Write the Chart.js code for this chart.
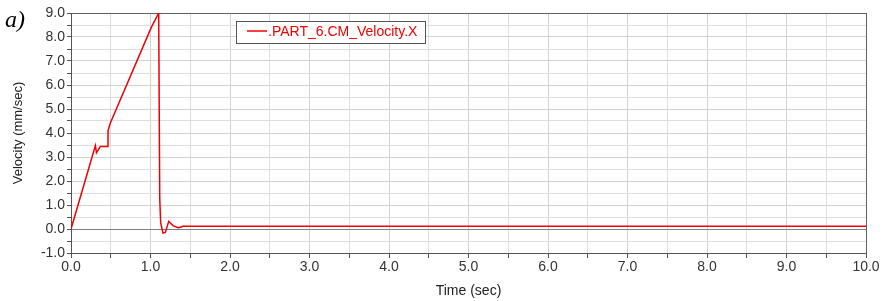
<!DOCTYPE html>
<html>
<head>
<meta charset="utf-8">
<script src="https://cdn.jsdelivr.net/npm/chart.js@4/dist/chart.umd.min.js"></script>
<style>
    body { margin: 0; background: #fff; }
    #wrap { position: relative; width: 882px; height: 301px; }
    #label { position: absolute; left: 5px; top: 6px; font: italic 24px "Liberation Serif", "Times New Roman", serif; color: #000; }
</style>
</head>
<body>
<div id="wrap">
    <canvas id="chart" width="882" height="301"></canvas>
    <div id="label">a)</div>
</div>
<script>
// data
var seriesName = ".PART_6.CM_Velocity.X";
var timeValues = [0, 0.307, 0.32, 0.37, 0.465, 0.466, 0.495, 1.01, 1.103, 1.116, 1.128, 1.157, 1.187, 1.229, 1.283, 1.346, 1.389, 1.40, 10];
var velocityValues = [0, 3.48, 3.17, 3.44, 3.44, 4.1, 4.42, 8.4, 9.0, 1.29, 0.25, -0.17, -0.14, 0.32, 0.14, 0.05, 0.08, 0.11, 0.11];
var xTicks = [0, 10, 0.5];
var yTicks = [-1, 9, 0.5];

var points = timeValues.map((t, i) => ({ x: t, y: velocityValues[i] }));
var fontFamily = '"Liberation Sans", Arial, sans-serif';

function gridColor(edge) {
    return (ctx) => {
        var v = ctx.tick.value;
        if (v == 0 && edge == 9) return '#808080';
        if (v == edge) return '#606060';
        return Number.isInteger(v) ? '#d2d2d2' : '#dedede';
    };
}

// legend box drawn inside the plot area
var boxLegend = {
    id: 'boxLegend',
    afterDraw(chart) {
        var ctx = chart.ctx;
        ctx.save();
        ctx.fillStyle = '#fff';
        ctx.fillRect(236, 21, 190, 22);
        ctx.strokeStyle = '#555';
        ctx.lineWidth = 1;
        ctx.strokeRect(236.5, 21.5, 189, 22);
        ctx.strokeStyle = '#f00000';
        ctx.lineWidth = 1.5;
        ctx.beginPath();
        ctx.moveTo(247, 31);
        ctx.lineTo(267, 31);
        ctx.stroke();
        ctx.fillStyle = '#f00000';
        ctx.font = '14px ' + fontFamily;
        ctx.textBaseline = 'middle';
        ctx.fillText(seriesName, 268, 32);
        ctx.restore();
    }
};

new Chart(document.getElementById('chart').getContext('2d'), {
    type: 'scatter',
    data: {
        datasets: [{
            label: seriesName,
            data: points,
            showLine: true,
            borderColor: '#f00000',
            borderWidth: 1.5,
            pointRadius: 0,
            tension: 0
        }]
    },
    plugins: [boxLegend],
    options: {
        responsive: false,
        animation: false,
        layout: { padding: { left: 0, right: 16, top: 13, bottom: 0 } },
        plugins: { legend: { display: false }, tooltip: { enabled: false } },
        scales: {
            x: {
                type: 'linear',
                min: xTicks[0],
                max: xTicks[1],
                afterFit: (scale) => { scale.height = 48; },
                ticks: {
                    stepSize: xTicks[2],
                    autoSkip: false,
                    maxRotation: 0,
                    padding: 1,
                    color: '#333',
                    font: { family: fontFamily, size: 14 },
                    callback: (v) => Number.isInteger(v) ? v.toFixed(1) : ''
                },
                grid: { color: gridColor(10), tickColor: '#555', tickLength: 5 },
                border: { color: '#555' },
                title: {
                    display: true,
                    text: 'Time (sec)',
                    color: '#222',
                    font: { family: fontFamily, size: 14 },
                    padding: { top: 0, bottom: 1 }
                }
            },
            y: {
                min: yTicks[0],
                max: yTicks[1],
                afterFit: (scale) => { scale.width = 71; },
                ticks: {
                    stepSize: yTicks[2],
                    autoSkip: false,
                    padding: 2,
                    color: '#333',
                    font: { family: fontFamily, size: 14 },
                    callback: (v) => Number.isInteger(v) ? v.toFixed(1) : ''
                },
                grid: { color: gridColor(9), tickColor: '#555', tickLength: 4 },
                border: { color: '#555' },
                title: {
                    display: true,
                    text: 'Velocity (mm/sec)',
                    color: '#222',
                    font: { family: fontFamily, size: 13 },
                    padding: { top: 11, bottom: 0 }
                }
            }
        }
    }
});
</script>
</body>
</html>
